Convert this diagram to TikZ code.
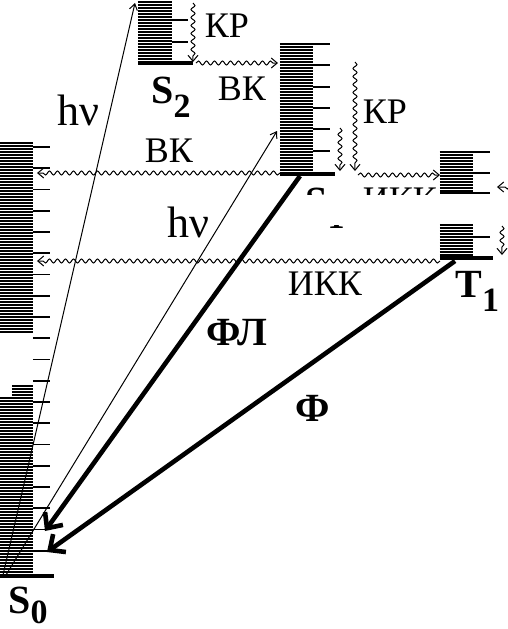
\documentclass[tikz,border=0pt]{standalone}
\usepackage{fontspec}
\setmainfont{Liberation Serif}
\usetikzlibrary{arrows.meta, decorations.pathmorphing}

\begin{document}
\begin{tikzpicture}[
    x=0.5pt, y=-0.5pt,
    sublevel/.style={line width=0.8pt},
    groundlevel/.style={line width=2pt},
    wave/.style={
        ->,
        >={Straight Barb[length=3pt,width=5pt]},
        line width=0.5pt,
        decorate,
        decoration={snake, segment length=4pt, amplitude=1pt, post length=2.5pt}
    },
    absorb/.style={
        ->,
        >={Straight Barb[length=3pt,width=4pt]},
        line width=0.5pt
    },
    emit/.style={
        ->,
        >={Straight Barb[length=6pt,width=11pt]},
        line width=2.3pt
    },
    lbl/.style={font=\fontsize{18}{18}\selectfont, inner sep=0pt, anchor=base},
    bigl/.style={font=\fontsize{20}{20}\selectfont\bfseries, inner sep=0pt, anchor=base},
    state/.style={font=\fontsize{20}{20}\selectfont\bfseries, inner sep=0pt, anchor=base west}
]
\useasboundingbox (0,0) rectangle (508,629);

% S0 levels
\foreach \y in {143,146,...,332} \draw[sublevel] (0,\y) -- (33,\y);
\foreach \y in {386,389,392,395} \draw[sublevel] (12,\y) -- (33,\y);
\foreach \y in {398,401,...,572} \draw[sublevel] (0,\y) -- (33,\y);
\foreach \k in {0,...,19} \draw[sublevel] (33,147+21.25*\k) -- (50,147+21.25*\k);
\draw[groundlevel] (0,576) -- (54,576);

% S2 levels
\foreach \y in {2,5,...,59} \draw[sublevel] (138,\y) -- (172,\y);
\foreach \y in {20,42} \draw[sublevel] (172,\y) -- (188,\y);
\draw[groundlevel] (138,63) -- (193,63);

% S1 levels
\foreach \y in {44,47,...,171} \draw[sublevel] (280,\y) -- (313,\y);
\foreach \y in {44,65,87,108,129,151} \draw[sublevel] (313,\y) -- (330,\y);
\draw[groundlevel] (280,174) -- (335,174);

% T2 levels
\foreach \y in {152,155,...,191} \draw[sublevel] (440,\y) -- (473,\y);
\foreach \y in {152,173,193} \draw[sublevel] (440,\y) -- (490,\y);

% T1 levels
\foreach \y in {225,228,...,255} \draw[sublevel] (440,\y) -- (473,\y);
\draw[sublevel] (473,237) -- (490,237);
\draw[groundlevel] (440,258) -- (493,258);

% Coordinates
\coordinate (s0a) at (3,575);
\coordinate (s0b) at (6,575);
\coordinate (s2top) at (135,3);
\coordinate (s1hit) at (277,131);
\coordinate (s1base) at (300,176);
\coordinate (flend) at (45,531);
\coordinate (t1base) at (455,261);
\coordinate (phend) at (47,552);
\coordinate (kr2a) at (193,3);
\coordinate (kr2b) at (193,62);
\coordinate (vk1a) at (196,63);
\coordinate (vk1b) at (278,63);
\coordinate (kr1a) at (355,62);
\coordinate (kr1b) at (355,171);
\coordinate (kr1c) at (340,128);
\coordinate (kr1d) at (340,171);
\coordinate (ikk1a) at (358,175);
\coordinate (ikk1b) at (440,175);
\coordinate (vk2a) at (280,173);
\coordinate (vk2b) at (37,173);
\coordinate (ikk2a) at (440,261);
\coordinate (ikk2b) at (37,261);
\coordinate (krta) at (502,226);
\coordinate (krtb) at (502,255);
\coordinate (t2a) at (510,187);
\coordinate (t2b) at (497,187);

% Labels
\node[lbl] (krS2) at (227,37) {КР};
\node[lbl] (vkS2) at (242,100) {ВК};
\node[lbl] (krS1) at (385,123) {КР};
\node[lbl] (vkS1) at (169,162) {ВК};
\node[lbl] (ikkT1) at (325,295) {ИКК};
\node[lbl, font=\fontsize{22}{22}\selectfont] (hv1) at (78,125) {hν};
\node[lbl, font=\fontsize{22}{22}\selectfont] (hv2) at (188,237) {hν};
\node[bigl] (fl) at (237,345) {ФЛ};
\node[bigl] (ph) at (313,421) {Ф};
\node[state] (S0) at (8,613) {S\raisebox{-5pt}{\fontsize{17}{17}\selectfont 0}};
\node[state] (S2) at (151,103) {S\raisebox{-7pt}{\fontsize{17}{17}\selectfont 2}};
\node[state] (T1) at (455,297) {T\raisebox{-7pt}{\fontsize{17}{17}\selectfont 1}};
\node[state] (S1) at (305,214) {S\raisebox{-7pt}{\fontsize{17}{17}\selectfont 1}};
\node[lbl] (ikkS1) at (400,211) {ИКК};
\fill[white] (298,195) rectangle (439,225);

% Paths
\draw[absorb] (s0a) -- (s2top);
\draw[absorb] (s0b) -- (s1hit);
\draw[emit] (s1base) -- (flend);
\draw[emit] (t1base) -- (phend);
\draw[wave] (kr2a) -- (kr2b);
\draw[wave] (vk1a) -- (vk1b);
\draw[wave] (kr1a) -- (kr1b);
\draw[wave] (kr1c) -- (kr1d);
\draw[wave] (ikk1a) -- (ikk1b);
\draw[wave] (vk2a) -- (vk2b);
\draw[wave] (ikk2a) -- (ikk2b);
\draw[wave] (krta) -- (krtb);
\draw[wave] (t2a) -- (t2b);

\end{tikzpicture}
\end{document}
